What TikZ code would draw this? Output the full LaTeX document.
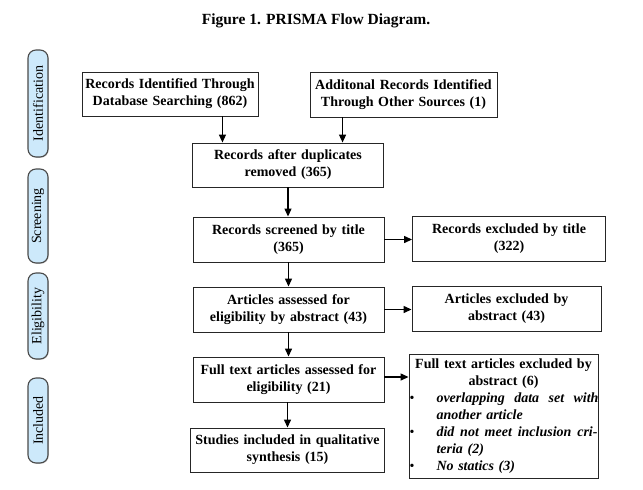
\documentclass[tikz,border=0pt]{standalone}
\usepackage{fontspec}
\setmainfont{Liberation Serif}
\usetikzlibrary{arrows.meta,calc,shadows}
\definecolor{tabfill}{HTML}{CDE9FB}
\definecolor{tabline}{HTML}{4A4A4A}
\begin{document}
\begin{tikzpicture}[x=1pt,y=-1pt,
  box/.style={draw=black!85,line width=0.9pt,fill=white,align=center,inner xsep=1pt,inner ysep=0pt,
    font=\bfseries\fontsize{14}{17}\selectfont},
  tab/.style={draw=tabline,line width=1.1pt,fill=tabfill,rounded corners=8pt,minimum width=20pt,
    inner sep=0pt,drop shadow={shadow xshift=0.8pt,shadow yshift=-0.8pt,opacity=0.35}},
  tablabel/.style={rotate=90,font=\fontsize{14}{16}\selectfont,inner sep=0pt},
  arr/.style={line width=1.3pt,-{Triangle[length=8pt,width=7pt]}},
]
\useasboundingbox[fill=white] (0,0) rectangle (643,490);
% title
\node[font=\bfseries\fontsize{15.5}{18}\selectfont] (title) at (316,21) {Figure 1. PRISMA Flow Diagram.};
% side tabs
\node[tab,minimum height=107pt] (t1) at (38,103.5) {};
\node[tablabel] (l1) at (t1.center) {Identification};
\node[tab,minimum height=94pt] (t2) at (38,216) {};
\node[tablabel] (l2) at (t2.center) {Screening};
\node[tab,minimum height=86pt] (t3) at (38,316) {};
\node[tablabel] (l3) at (t3.center) {Eligibility};
\node[tab,minimum height=85pt] (t4) at (38,420.5) {};
\node[tablabel] (l4) at (t4.center) {Included};
% boxes
\node[box,minimum width=176pt,minimum height=44pt,text width=174pt] (A) at (170,94) {Records Identified Through\\Database Searching (862)};
\node[box,minimum width=187pt,minimum height=45pt,text width=185pt] (B) at (403.5,94.5) {Additonal Records Identified\\Through Other Sources (1)};
\node[box,minimum width=191pt,minimum height=44pt,text width=189pt] (C) at (288,165) {Records after duplicates\\removed (365)};
\node[box,minimum width=191pt,minimum height=45pt,text width=189pt] (D) at (288.5,239.5) {Records screened by title\\(365)};
\node[box,minimum width=193pt,minimum height=45pt,text width=191pt] (E) at (509,238.5) {Records excluded by title\\(322)};
\node[box,minimum width=191pt,minimum height=45pt,text width=189pt] (F) at (288.5,309.5) {Articles assessed for\\eligibility by abstract (43)};
\node[box,minimum width=189pt,minimum height=45pt,text width=187pt] (G) at (506.5,308.5) {Articles excluded by\\abstract (43)};
\node[box,minimum width=191pt,minimum height=45pt,text width=189pt] (H) at (288.5,379.5) {Full text articles assessed for\\eligibility (21)};
\node[box,minimum width=194pt,minimum height=44pt,text width=192pt] (J) at (287.5,450) {Studies included in qualitative\\synthesis (15)};
\node[box,minimum width=189pt,minimum height=124pt,text width=188pt,align=left,inner xsep=0.5pt] (I) at (503.5,416) {%
\makebox[188pt][c]{Full text articles excluded by}\\
\makebox[188pt][c]{abstract (6)}\\
\makebox[27pt][l]{\mdseries\textbullet}\makebox[162pt][l]{\itshape overlapping\hfill data\hfill set\hfill with}\\
\hspace*{27pt}{\itshape another article}\\
\makebox[27pt][l]{\mdseries\textbullet}\makebox[161pt][l]{\itshape did\hfill not\hfill meet\hfill inclusion\hfill cri-}\\
\hspace*{27pt}{\itshape teria (2)}\\
\makebox[27pt][l]{\mdseries\textbullet}{\itshape No statics (3)}};
% arrows
\draw[arr] ([xshift=-36pt]A.south east) -- ([xshift=-36pt]A.south east |- C.north);
\draw[arr] ([xshift=33pt]B.south west) -- ([xshift=33pt]B.south west |- C.north);
\draw[arr] (C.south) -- (C.south |- D.north);
\draw[arr] (D.east) -- (D.east -| E.west);
\draw[arr] (D.south) -- (D.south |- F.north);
\draw[arr] (F.east) -- (F.east -| G.west);
\draw[arr] (F.south) -- (F.south |- H.north);
\draw[arr] ([yshift=2.5pt]H.east) -- ([yshift=2.5pt]H.east -| I.west);
\draw[arr] ([xshift=-1pt]H.south) -- ([xshift=-1pt]H.south |- J.north);
\end{tikzpicture}
\end{document}
